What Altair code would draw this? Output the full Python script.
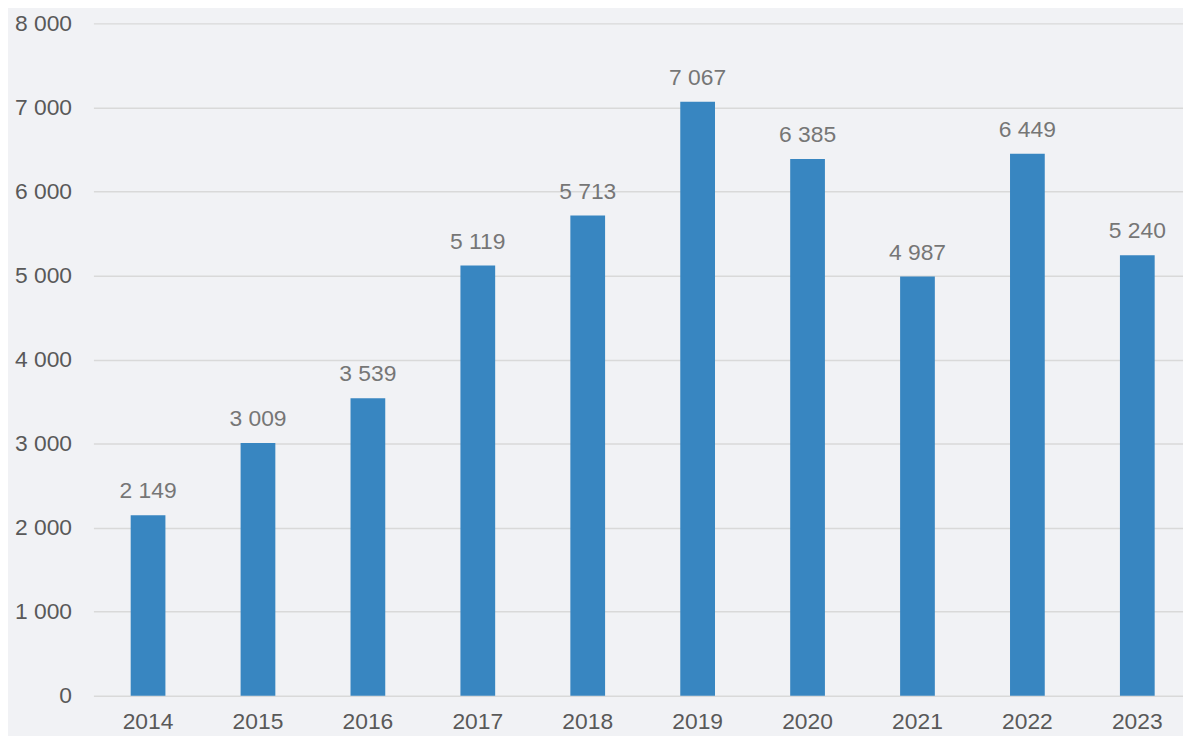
import altair as alt
import pandas as pd

years = ["2014", "2015", "2016", "2017", "2018", "2019", "2020", "2021", "2022", "2023"]
values = [2149, 3009, 3539, 5119, 5713, 7067, 6385, 4987, 6449, 5240]
y_ticks = [0, 1000, 2000, 3000, 4000, 5000, 6000, 7000, 8000]

df = pd.DataFrame({"year": years, "value": values})

FONT = "Liberation Sans"
FS = 23

x_enc = alt.X(
    "year:N",
    sort=years,
    title=None,
    scale=alt.Scale(range=[0, 1106], paddingInner=0.684, paddingOuter=0.339),
    axis=alt.Axis(
        labelAngle=0, domain=False, ticks=False, labelPadding=15,
        labelFontSize=FS, labelColor="#595959", labelFont=FONT, grid=False,
    ),
)

y_enc = alt.Y(
    "value:Q",
    title=None,
    scale=alt.Scale(domain=[0, 8000], nice=False),
    axis=alt.Axis(
        values=y_ticks, domain=False, ticks=False, labelPadding=22,
        labelFontSize=FS, labelColor="#595959", labelFont=FONT,
        gridColor="#d9d9d9", gridWidth=1.5,
        labelExpr="replace(format(datum.value, ','), ',', ' ')",
    ),
)

bars = alt.Chart(df).mark_bar(color="#3886c1").encode(x=x_enc, y=y_enc)

labels = alt.Chart(df).transform_calculate(
    label="replace(format(datum.value, ','), ',', ' ')"
).mark_text(
    font=FONT, fontSize=FS, color="#767676", baseline="alphabetic", dy=-17
).encode(x=alt.X("year:N", sort=years), y="value:Q", text="label:N")

chart = (
    alt.layer(bars, labels)
    .properties(
        width=1097,
        height=677,
        autosize=alt.AutoSizeParams(type="none"),
        padding={"left": 86, "top": 13, "right": 0, "bottom": 38},
        background="#f1f2f5",
    )
    .configure_view(stroke=None)
)

chart.save("out.html", embed_options={"renderer": "svg", "actions": False})
